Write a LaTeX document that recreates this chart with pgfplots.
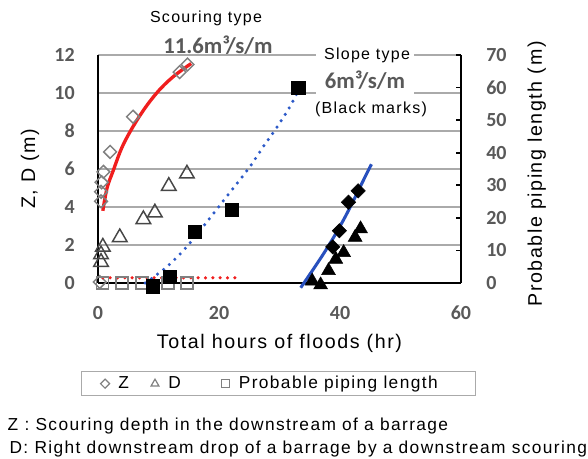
\documentclass[border=0pt]{standalone}
\usepackage{fontspec}
\setmainfont{Liberation Sans}
\newfontfamily\calib{Carlito}
\newfontfamily\arialw[LetterSpace=8]{Liberation Sans}
\usepackage{pgfplots}
\pgfplotsset{compat=1.18}

\definecolor{tickgray}{RGB}{89,89,89}
\definecolor{gridgray}{RGB}{170,170,170}
\definecolor{markgray}{RGB}{128,128,128}
\definecolor{trigray}{RGB}{70,70,70}
\definecolor{trendred}{RGB}{240,30,30}
\definecolor{trendblue}{RGB}{40,80,190}
\definecolor{dotblue}{RGB}{45,90,200}

% Scouring type (open marks): Z and D on the left axis
\pgfplotstableread{
t z
0.3 0.05
0.5 4.3
0.5 4.8
0.6 5.3
0.9 5.85
2.0 6.9
5.8 8.75
13.5 11.1
14.8 11.5
}\scourZ
\pgfplotstableread{
t d
0.5 1.1
0.5 1.5
0.8 1.9
3.6 2.4
7.5 3.35
9.4 3.7
11.7 5.1
14.7 5.75
}\scourD
% Slope type (black marks): Z and D on the left axis
\pgfplotstableread{
t z
38.8 1.9
39.9 2.75
41.4 4.25
43.0 4.85
}\slopeZ
\pgfplotstableread{
t d
35.4 0.1
36.8 -0.1
38.1 0.65
39.3 1.25
40.6 1.6
42.5 2.4
43.4 2.85
}\slopeD
% Probable piping length on the right axis
\pgfplotstableread{
t p
0.7 0
4.0 0
7.3 0
11.6 0
14.7 0
}\scourP
\pgfplotstableread{
t p
9.1 -1
11.9 2
16.0 15.7
22.1 22.4
33.1 60
}\slopeP

\newcommand\labelfont{\arialw\fontsize{14.75}{17}\selectfont}

\pgfplotsset{
  base/.style={
    scale only axis, width=272.25pt, height=171pt,
    at={(73.5pt,131.25pt)}, anchor=south west,
    xmin=0, xmax=60, clip=false,
    /pgf/number format/assume math mode=true,
    tick label style={font=\calib\bfseries\fontsize{15}{18}\selectfont, text=tickgray},
    axis line style={-, line width=1.5pt, black},
  },
}

\begin{document}
\begin{tikzpicture}
\path[use as bounding box] (0pt,0pt) rectangle (441pt,343.5pt);

\begin{axis}[base,
  ymin=0, ymax=12, ytick={0,2,...,12}, xtick={0,20,40,60},
  axis x line*=bottom, axis y line*=left,
  ymajorgrids, grid style={gridgray, line width=1.1pt},
  major tick length=0pt,
  yticklabel style={anchor=east, inner sep=0pt, xshift=-17.25pt},
  xticklabel style={anchor=center, inner sep=0pt, yshift=-22.5pt},
  xlabel={Total hours of floods (hr)},
  every axis x label/.style={at={(axis description cs:0.5,-0.263)}, anchor=center, font=\labelfont},
  ylabel={Z, D (m)},
  every axis y label/.style={at={(axis description cs:-0.187,0.5)}, anchor=center, rotate=90, font=\labelfont},
  legend columns=3, legend cell align=left,
  legend image code/.code={%
    \path[draw=none, fill=none] (0pt,0pt) -- (16pt,0pt);
    \draw[mark repeat=2,mark phase=2,#1] plot coordinates {(0pt,0pt) (8pt,0pt) (16pt,0pt)};},
  legend style={at={(axis description cs:-0.0468,-0.386)}, anchor=north west,
    draw=gridgray, line width=1.1pt, inner xsep=9.5pt, inner ysep=1.5pt,
    font=\arialw\fontsize{13}{15}\selectfont,
    /tikz/every even column/.append style={column sep=9.5pt}},
]
\addlegendimage{only marks, mark=square, mark size=2.4pt, mark options={rotate=45, draw=markgray, fill=white, line width=0.9pt}}
\addlegendentry{Z}
\addlegendimage{only marks, mark=triangle, mark size=3.4pt, mark options={draw=markgray, fill=white, line width=0.9pt}}
\addlegendentry{D\hspace*{14pt}\mbox{}}
\addlegendimage{only marks, mark=square, mark size=2.9pt, mark options={draw=markgray, fill=white, line width=0.9pt}}
\addlegendentry{Probable piping length\hspace*{17pt}\mbox{}}

\addplot[forget plot, only marks, mark=square, mark size=3.4pt,
  mark options={rotate=45, draw=markgray, fill=white, line width=1.1pt}] table[x=t, y=z] {\scourZ};
\addplot[forget plot, only marks, mark=triangle, mark size=6.3pt,
  mark options={draw=trigray, fill=white, line width=1.1pt}] table[x=t, y=d] {\scourD};
\addplot[forget plot, only marks, mark=square*, mark size=3.8pt,
  mark options={rotate=45, black}] table[x=t, y=z] {\slopeZ};
\addplot[forget plot, only marks, mark=triangle*, mark size=6pt,
  mark options={black}] table[x=t, y=d] {\slopeD};

% trend of Z, scouring type
\addplot[forget plot, trendred, line width=2.5pt, smooth, tension=0.6] coordinates {
 (0.8,3.8) (1.5,5.0) (2.5,5.9) (4.2,7.3) (6.9,8.8) (9.7,10.0) (12.4,10.85) (15.4,11.55)};
% trend of Z and D, slope type
\addplot[forget plot, trendblue, line width=2.3pt, smooth, tension=0.6] coordinates {
 (33.5,-0.25) (37.5,1.65) (40.8,3.45) (44.4,5.75) (45.2,6.25)};
\end{axis}

\begin{axis}[base,
  ymin=0, ymax=70, ytick={0,10,...,70},
  axis y line*=right, axis x line=none,
  tick align=inside, major tick length=3.75pt,
  tick style={black, line width=1.2pt},
  yticklabel style={anchor=west, inner sep=0pt, xshift=18.75pt},
  ylabel={Probable piping length (m)},
  every axis y label/.style={at={(axis description cs:1.209,0.478)}, anchor=center, rotate=90, font=\labelfont},
]
\addplot[only marks, mark=square, mark size=4.5pt,
  mark options={draw=markgray, fill=white, line width=1.1pt}] table[x=t, y=p] {\scourP};
\addplot[only marks, mark=square*, mark size=4.9pt, mark options={black}] table[x=t, y=p] {\slopeP};
% piping trend, scouring type
\addplot[trendred, line width=2.6pt, line cap=round, dash pattern=on 0pt off 5.5pt] coordinates {
 (0.8,1.6) (23.5,1.6)};
% piping trend, slope type
\addplot[dotblue, line width=2.6pt, line cap=round, dash pattern=on 0pt off 5.7pt, smooth, tension=0.5] coordinates {
 (7.8,0) (11.4,5) (15.2,12.3) (22.1,28.5) (25.1,35.7) (27.3,41.8) (29.5,47.6) (31.7,54.1) (33.0,58.7)};
\end{axis}

% text boxes above and inside the plot
\node[font=\arialw\fontsize{12}{14}\selectfont] at (154.5pt,330pt) {Scouring type};
\node[font=\calib\bfseries\fontsize{17}{20}\selectfont, text=tickgray] at (163.5pt,309.75pt) {11.6m³/s/m};
\fill[white] (237pt,308.25pt) rectangle (310.5pt,255pt);
\node[font=\arialw\fontsize{12}{14}\selectfont] at (275.25pt,302.25pt) {Slope type};
\node[font=\calib\bfseries\fontsize{17}{20}\selectfont, text=tickgray] at (273.75pt,283.5pt) {6m³/s/m};
\node[font=\arialw\fontsize{12}{14}\selectfont] at (278.25pt,261.75pt) {(Black marks)};

% notes under the legend
\node[font=\arialw\fontsize{13}{15}\selectfont, anchor=base west, inner sep=0pt] at (5.6pt,21pt)
  {Z : Scouring depth in the downstream of a barrage};
\node[font=\arialw\fontsize{13}{15}\selectfont, anchor=base west, inner sep=0pt] at (7pt,3.4pt)
  {D: Right downstream drop of a barrage by a downstream scouring};
\end{tikzpicture}
\end{document}
